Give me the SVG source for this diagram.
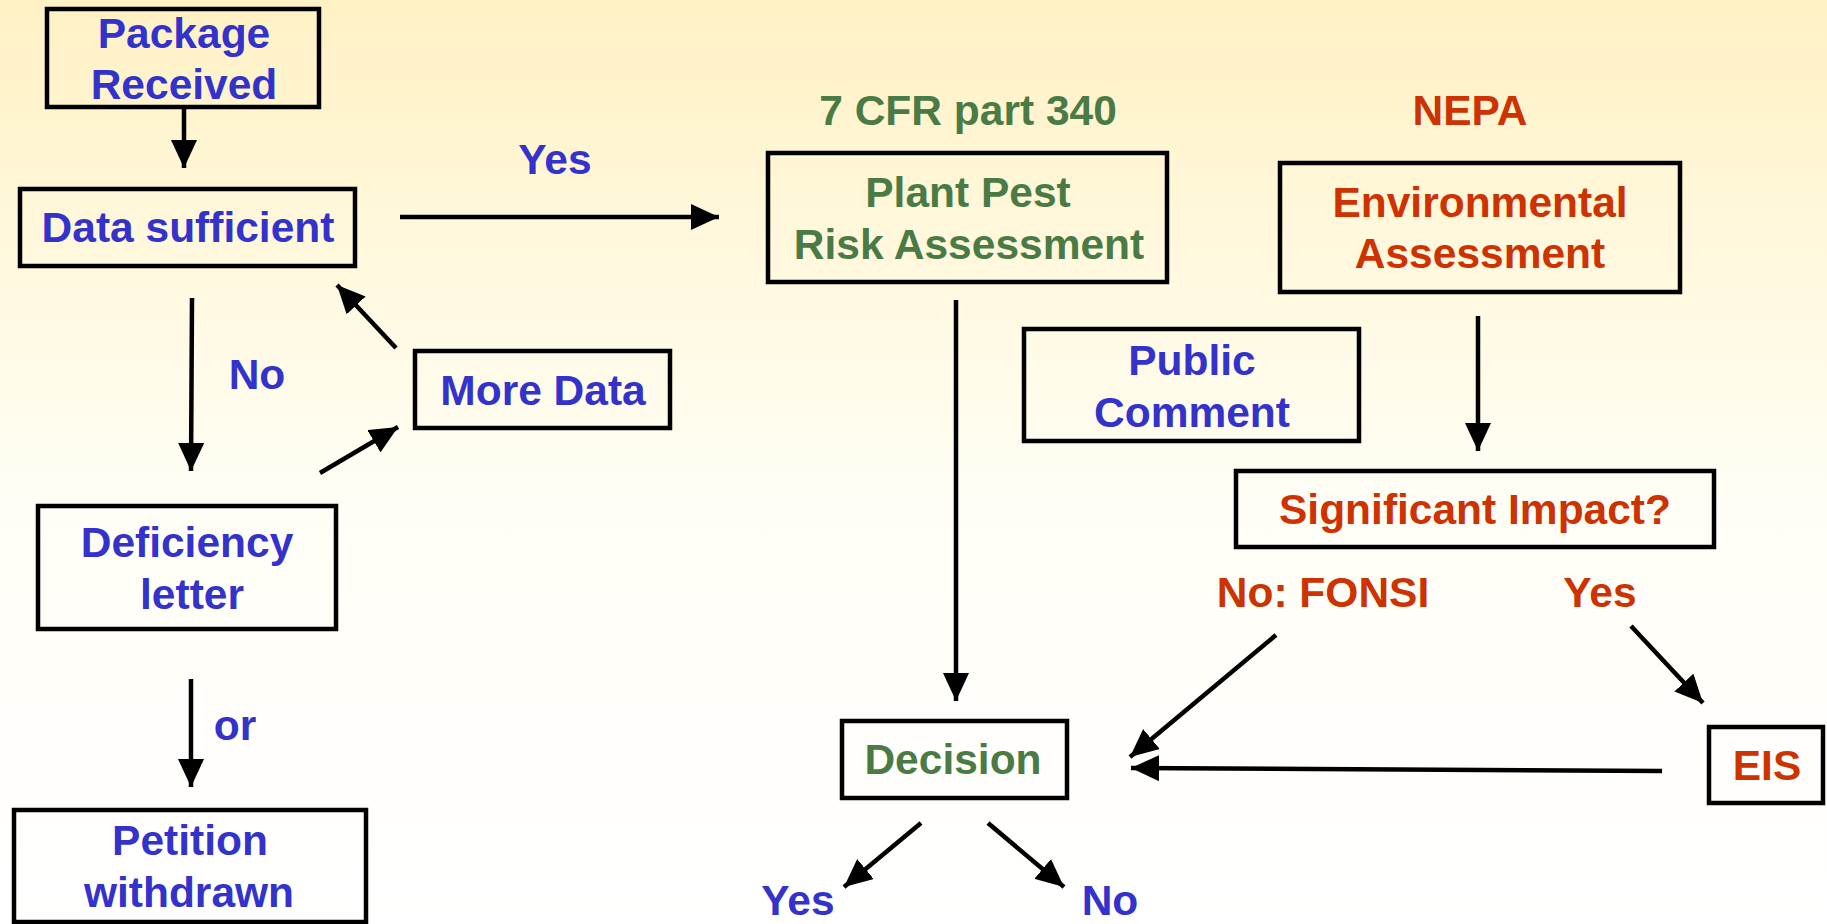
<svg xmlns="http://www.w3.org/2000/svg" width="1827" height="924" viewBox="0 0 1827 924">
<defs>
<linearGradient id="bg" x1="0" y1="0" x2="0" y2="1">
<stop offset="0" stop-color="#FFF1C4"/>
<stop offset="0.3" stop-color="#FFF9E0"/>
<stop offset="0.55" stop-color="#FFFEF6"/>
<stop offset="1" stop-color="#FFFFFF"/>
</linearGradient>
<marker id="ah" viewBox="0 0 28 26" refX="28" refY="13" markerWidth="28" markerHeight="26" markerUnits="userSpaceOnUse" orient="auto">
<path d="M0,0 L28,13 L0,26 z" fill="#000"/>
</marker>
<style>
.box{fill:none;stroke:#000;stroke-width:4.5}
.t{font-family:"Liberation Sans",Arial,sans-serif;font-weight:bold;font-size:42.5px;text-anchor:middle}
.b{fill:#3333CC}
.g{fill:#4B7B45}
.r{fill:#CC3300}
.c line{stroke:#000;stroke-width:4.5;marker-end:url(#ah)}
</style>
</defs>
<rect x="0" y="0" width="1827" height="924" fill="url(#bg)"/>

<g id="package-received"><rect class="box" x="47" y="9" width="272" height="98"/><text class="t b" x="184" y="48">Package</text><text class="t b" x="184" y="99">Received</text></g>
<g id="data-sufficient"><rect class="box" x="20" y="189" width="335" height="77"/><text class="t b" x="188" y="242">Data sufficient</text></g>
<g id="more-data"><rect class="box" x="415" y="351" width="255" height="77"/><text class="t b" x="543" y="405">More Data</text></g>
<g id="deficiency-letter"><rect class="box" x="38" y="506" width="298" height="123"/><text class="t b" x="187" y="557">Deficiency</text><text class="t b" x="192" y="609">letter</text></g>
<g id="petition-withdrawn"><rect class="box" x="14" y="810" width="352" height="112"/><text class="t b" x="190" y="855">Petition</text><text class="t b" x="189" y="907">withdrawn</text></g>
<g id="plant-pest"><rect class="box" x="768" y="153" width="399" height="129"/><text class="t g" x="968" y="207">Plant Pest</text><text class="t g" x="969" y="259">Risk Assessment</text></g>
<g id="environmental-assessment"><rect class="box" x="1280" y="163" width="400" height="129"/><text class="t r" x="1480" y="217">Environmental</text><text class="t r" x="1480" y="268">Assessment</text></g>
<g id="public-comment"><rect class="box" x="1024" y="329" width="335" height="112"/><text class="t b" x="1192" y="375">Public</text><text class="t b" x="1192" y="427">Comment</text></g>
<g id="significant-impact"><rect class="box" x="1236" y="471" width="478" height="76"/><text class="t r" x="1475" y="524">Significant Impact?</text></g>
<g id="decision"><rect class="box" x="842" y="721" width="225" height="77"/><text class="t g" x="953" y="774">Decision</text></g>
<g id="eis"><rect class="box" x="1709" y="727" width="114" height="76"/><text class="t r" x="1767" y="780">EIS</text></g>

<g id="labels">
<text class="t g" x="968" y="125">7 CFR part 340</text>
<text class="t r" x="1470" y="125">NEPA</text>
<text class="t b" x="555" y="174">Yes</text>
<text class="t b" x="257" y="389">No</text>
<text class="t b" x="235" y="740">or</text>
<text class="t r" x="1323" y="607">No: FONSI</text>
<text class="t r" x="1600" y="607">Yes</text>
<text class="t b" x="798" y="915">Yes</text>
<text class="t b" x="1110" y="915">No</text>
</g>

<g id="connectors" class="c">
<line x1="184" y1="107" x2="184" y2="168"/>
<line x1="400" y1="217" x2="719" y2="217"/>
<line x1="192" y1="298" x2="191" y2="471"/>
<line x1="320" y1="473" x2="398" y2="427"/>
<line x1="396" y1="348" x2="337" y2="285"/>
<line x1="191" y1="679" x2="191" y2="787"/>
<line x1="956" y1="300" x2="956" y2="701"/>
<line x1="1478" y1="316" x2="1478" y2="451"/>
<line x1="1276" y1="635" x2="1130" y2="757"/>
<line x1="1631" y1="626" x2="1703" y2="703"/>
<line x1="1662" y1="771" x2="1131" y2="768"/>
<line x1="921" y1="823" x2="844" y2="887"/>
<line x1="988" y1="823" x2="1064" y2="887"/>
</g>
</svg>
